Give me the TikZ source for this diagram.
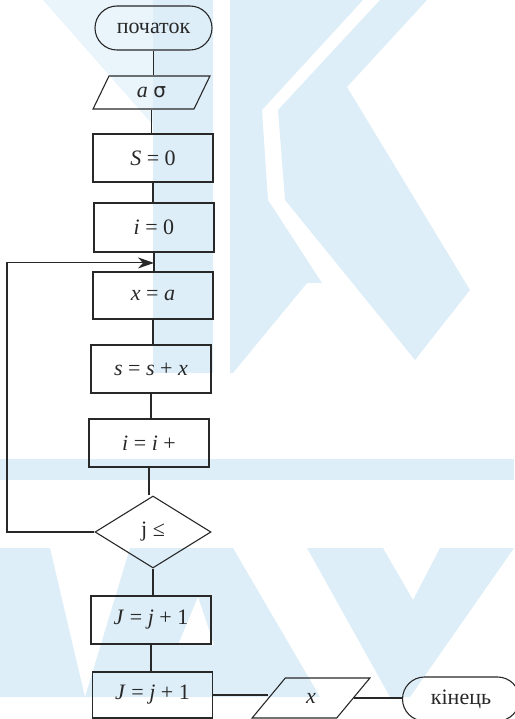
\documentclass[tikz,border=0pt]{standalone}
\usepackage{fontspec}
\setmainfont{Liberation Serif}
\newfontfamily\symfont{DejaVu Sans}
\usetikzlibrary{shapes.geometric,arrows.meta,calc}
\definecolor{wmark}{RGB}{221,238,248}
\definecolor{wmarklight}{RGB}{233,244,251}
\definecolor{ink}{RGB}{40,40,40}
\tikzset{
  every node/.style={font=\fontsize{22}{26}\selectfont, text=ink},
  line/.style={draw=ink, line width=1.1pt},
  procbox/.style={line, rectangle, minimum width=120pt, minimum height=48pt, inner sep=0pt},
  termbox/.style={line, rectangle, rounded corners=22pt, minimum width=117pt, minimum height=44pt, inner sep=0pt},
  iobox/.style={line, trapezium, trapezium stretches=true, inner sep=0pt},
  decbox/.style={line, diamond, minimum width=116pt, minimum height=72pt, inner sep=0pt},
  conn/.style={line},
  loopconn/.style={line, -{Stealth[length=16pt,width=11pt,inset=5pt]}},
}
\begin{document}
\begin{tikzpicture}[x=1pt,y=-1pt]
\useasboundingbox (0,0) rectangle (514,719);

% pale background emblem
\begin{scope}
  \clip (0,0) rectangle (514,719);
  \fill[wmarklight] (43,0) -- (153,0) -- (153,125) -- cycle;
  \fill[wmark] (153,0) rectangle (213,373);
  \fill[wmark] (230,0) -- (363,0) -- (262,110) -- (268,200) -- (322,283)
               -- (307,283) -- (233,373) -- (230,373) -- cycle;
  \fill[wmark] (380,0) -- (427,0) -- (347,87) -- (470,290) -- (415,360)
               -- (285,200) -- (278,110) -- cycle;
  \fill[wmark] (0,459) rectangle (514,480);
  \fill[wmark] (0,548) -- (50,548) -- (85,697) -- (0,697) -- cycle;
  \fill[wmark] (130,548) -- (233,548) -- (320,697) -- (85,697) -- cycle;
  \fill[white] (198,597) -- (214,645) -- (178,645) -- cycle;
  \fill[wmark] (307,548) -- (383,548) -- (413,600) -- (440,548) -- (514,548)
               -- (410,697) -- (390,697) -- cycle;
\end{scope}

% flowchart blocks
\node[termbox] (start) at (153.5,28) {початок};
\node[iobox, trapezium left angle=64, trapezium right angle=116,
      minimum width=117pt, minimum height=33pt] (inp) at (151.5,92.5)
      {\textit{a} {\symfont\fontsize{20}{24}\selectfont σ}};
\node[procbox] (s0) at (153,158) {\textit{S} = 0};
\node[procbox, minimum height=49pt] (i0) at (154,227.5) {\textit{i} = 0};
\node[procbox, minimum height=47pt] (xa) at (153,295.5) {\textit{x} = \textit{a}};
\node[procbox] (ssx) at (151,369) {\textit{s} = \textit{s} + \textit{x}};
\node[procbox] (inc) at (149,443) {\textit{i} = \textit{i} +};
\node[decbox] (cond) at (153,532) {j ≤};
\node[procbox] (j1) at (151,620) {\textit{J} = \textit{j} + 1};
\node[procbox, minimum height=46pt] (j2) at (152.5,695) {\textit{J} = \textit{j} + 1};
\node[iobox, trapezium left angle=58, trapezium right angle=122,
      minimum width=118pt, minimum height=40pt] (out) at (311,698) {\textit{x}};
\node[termbox] (stop) at (461,699) {кінець};

% loop helpers
\coordinate (lx) at (7,0);
\coordinate (loopin) at ($(i0.south)!0.55!(i0.south |- xa.north)$);

% connectors
\draw[conn] (start.south) -- (start.south |- inp.north);
\draw[conn] (inp.south) -- (inp.south |- s0.north);
\draw[conn] (s0.south) -- (s0.south |- i0.north);
\draw[conn] (i0.south) -- (i0.south |- xa.north);
\draw[conn] (xa.south) -- (xa.south |- ssx.north);
\draw[conn] (ssx.south) -- (ssx.south |- inc.north);
\draw[conn] (inc.south) -- (inc.south |- cond.north);
\draw[conn] (cond.south) -- (cond.south |- j1.north);
\draw[conn] (j1.south) -- (j1.south |- j2.north);
\draw[conn] (j2.east) -- (j2.east -| out.west);
\draw[conn] (out.east) -- (out.east -| stop.west);
\draw[loopconn] (cond.west) -- (cond.west -| lx) |- (loopin);
\end{tikzpicture}
\end{document}
